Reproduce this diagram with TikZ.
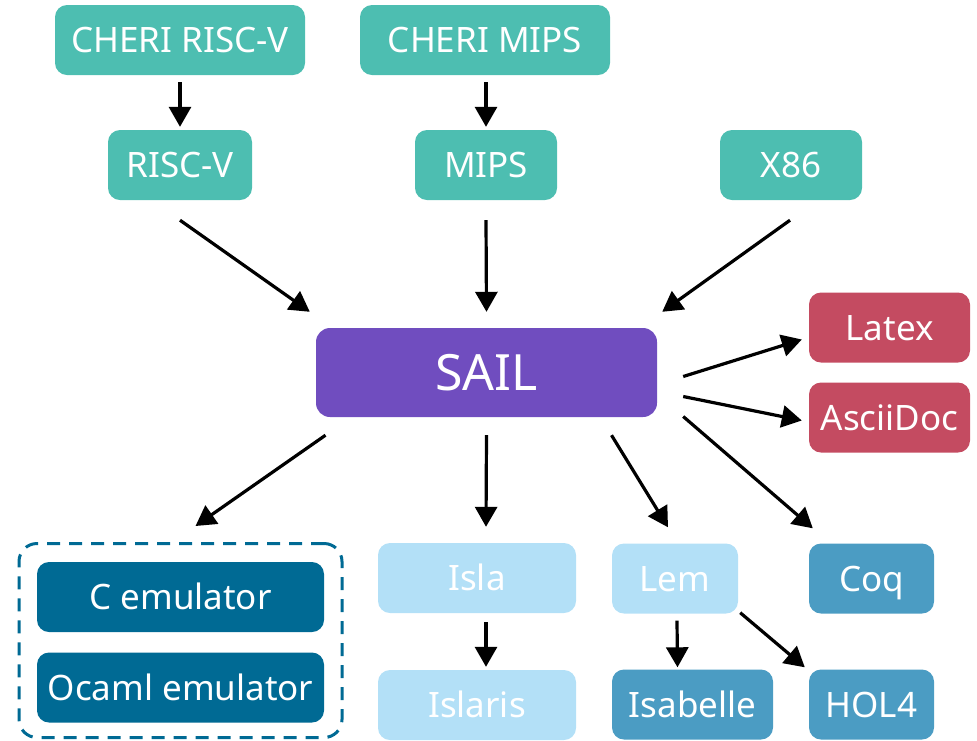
\documentclass[tikz,border=0pt]{standalone}
\usepackage{fontspec}
\setmainfont{Noto Sans}
\usetikzlibrary{arrows.meta}
\definecolor{cteal}{HTML}{4DBEB1}
\definecolor{cpurple}{HTML}{704DBF}
\definecolor{cred}{HTML}{C44B61}
\definecolor{cdark}{HTML}{006A94}
\definecolor{clight}{HTML}{B3E0F7}
\definecolor{cmed}{HTML}{4B9CC3}
\tikzset{
  box/.style={rectangle, rounded corners=12pt, text=white, inner sep=0pt,
    font=\fontsize{35}{40}\selectfont, text height=25pt, text depth=0pt,
    minimum height=70pt},
  teal/.style={box, fill=cteal},
  redbox/.style={box, fill=cred},
  darkbox/.style={box, fill=cdark},
  lightbox/.style={box, fill=clight},
  medbox/.style={box, fill=cmed},
  arr/.style={line width=3.2pt, -{Triangle[length=20pt,width=22pt]}},
}
\begin{document}
\begin{tikzpicture}[x=1pt,y=-1pt]
\useasboundingbox (0,0) rectangle (977,740);
% top
\node[teal, minimum width=250pt] (cherirv) at (180,40) {CHERI RISC-V};
\node[teal, minimum width=250pt] (cherimips) at (485,40) {CHERI MIPS};
\node[teal, minimum width=144pt] (riscv) at (180,165) {RISC-V};
\node[teal, minimum width=142pt] (mips) at (486,165) {MIPS};
\node[teal, minimum width=142pt] (x86) at (791,165) {X86};
% sail
\node[rectangle, rounded corners=14pt, fill=cpurple, text=white, inner sep=0pt,
  font=\fontsize{50}{56}\selectfont, text height=36pt, text depth=0pt,
  minimum width=341pt, minimum height=89pt] (sail) at (486.5,372.5) {SAIL};
% right
\node[redbox, minimum width=161pt] (latex) at (889.5,327.5) {Latex};
\node[redbox, minimum width=161pt] (asciidoc) at (889.5,417.5) {AsciiDoc};
% emulators
\node[darkbox, minimum width=287pt] (cemu) at (180.5,597) {C emulator};
\node[darkbox, minimum width=287pt] (ocaml) at (180.5,687.5) {Ocaml emulator};
\node[draw=cdark, line width=3pt, dash pattern=on 13pt off 9pt, rounded corners=18pt,
  minimum width=323pt, minimum height=194pt, inner sep=0pt] (emubox) at (180.5,640.5) {};
% bottom
\node[lightbox, minimum width=198pt] (isla) at (477,578) {Isla};
\node[lightbox, minimum width=198pt] (islaris) at (477,705) {Islaris};
\node[lightbox, minimum width=126pt] (lem) at (675,578.5) {Lem};
\node[medbox, minimum width=161pt] (isabelle) at (692.5,704.5) {Isabelle};
\node[medbox, minimum width=125pt] (coq) at (871.5,578.5) {Coq};
\node[medbox, minimum width=125pt] (hol4) at (871.5,704.5) {HOL4};
% arrows
\draw[arr] ([shift={(0,7)}]cherirv.south) -- ([shift={(0,-3)}]riscv.north);
\draw[arr] ([shift={(1,7)}]cherimips.south) -- ([shift={(0,-3)}]mips.north);
\draw[arr] ([shift={(0,20)}]riscv.south) -- ([shift={(-6,-16)}]sail.north west);
\draw[arr] ([shift={(0,20)}]mips.south) -- ([shift={(0,-16)}]sail.north);
\draw[arr] ([shift={(-1,20)}]x86.south) -- ([shift={(5,-16)}]sail.north east);
\draw[arr] ([shift={(26,4)}]sail.east) -- ([shift={(-7,12)}]latex.west);
\draw[arr] ([shift={(26,24)}]sail.east) -- ([shift={(-7,3)}]asciidoc.west);
\draw[arr] ([shift={(26,44)}]sail.east) -- ([shift={(4,-15)}]coq.north west);
\draw[arr] ([shift={(125,18)}]sail.south) -- ([shift={(-7,-16)}]lem.north);
\draw[arr] ([shift={(0,18)}]sail.south) -- ([shift={(9,-16)}]isla.north);
\draw[arr] ([shift={(-161,18)}]sail.south) -- ([shift={(15,-16)}]emubox.north);
\draw[arr] ([shift={(9,9)}]isla.south) -- ([shift={(9,-3)}]islaris.north);
\draw[arr] ([shift={(2,7)}]lem.south) -- ([shift={(-15,-2)}]isabelle.north);
\draw[arr] ([shift={(2,-1)}]lem.south east) -- ([shift={(-4,-2)}]hol4.north west);
\end{tikzpicture}
\end{document}
